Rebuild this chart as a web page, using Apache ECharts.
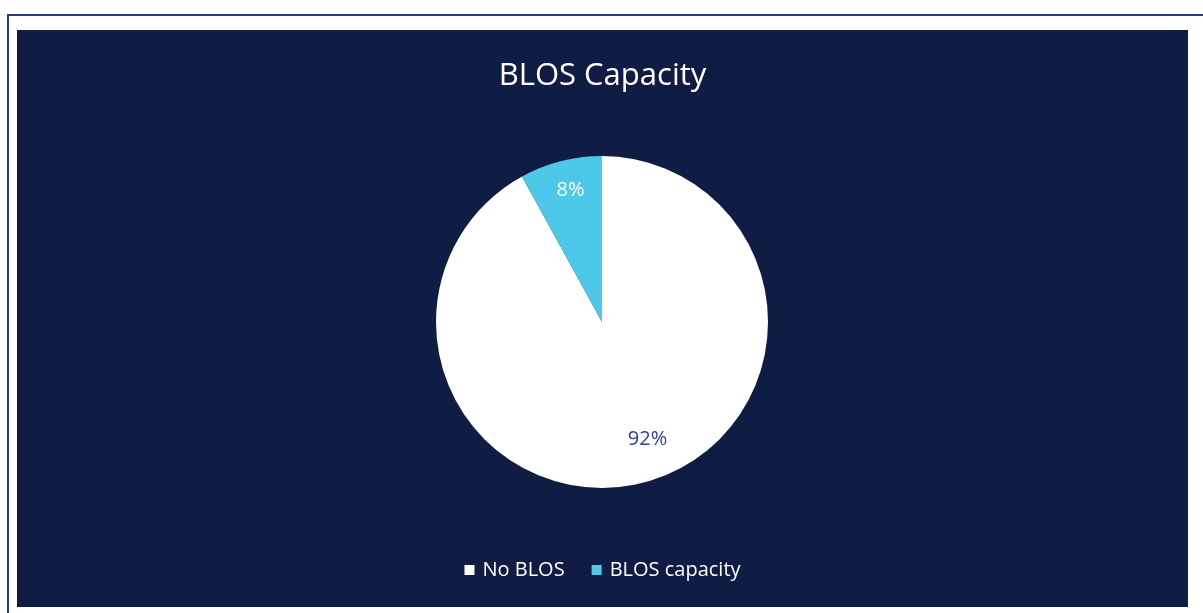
<!DOCTYPE html>
<html>
<head>
<meta charset="utf-8">
<script src="https://cdn.jsdelivr.net/npm/echarts@6/dist/echarts.min.js"></script>
<style>
  html, body { margin: 0; padding: 0; background: #ffffff; }
  #frame {
    position: absolute; left: 7px; top: 14px; width: 1300px; height: 700px;
    border-top: 2px solid #1f3a8a; border-left: 2px solid #1f3a8a;
  }
  #main {
    position: absolute; left: 17px; top: 30px; width: 1171px; height: 577px;
    background: #0f1c44;
  }
</style>
</head>
<body>
<div id="frame"></div>
<div id="main"></div>
<script>
// 饼图数据
let categories = ["No BLOS", "BLOS capacity"];
let values = [92, 8];
let colors = ["#ffffff", "#4dc8e9"];
let labelColors = ["#2e3f94", "#ffffff"];

let myChart = echarts.init(document.getElementById("main"));

let pieData = categories.map(function (name, i) {
    return { name: name, value: values[i], itemStyle: { color: colors[i] } };
});
// 只用来放标签的透明饼
let labelData = categories.map(function (name, i) {
    return {
        name: name,
        value: values[i],
        itemStyle: { color: "rgba(0,0,0,0)" },
        label: { color: labelColors[i] }
    };
});

let option = {
    backgroundColor: "#0f1c44",
    title: {
        text: "BLOS Capacity",
        left: "center",
        top: 26,
        textStyle: {
            color: "#ffffff",
            fontFamily: "Open Sans",
            fontSize: 31,
            fontWeight: "normal"
        }
    },
    legend: {
        data: categories,
        bottom: 22,
        left: "center",
        itemWidth: 10,
        itemHeight: 10,
        itemGap: 27,
        icon: "rect",
        textStyle: {
            color: "#ffffff",
            fontFamily: "Open Sans",
            fontSize: 20,
            padding: [0, 0, 0, 3]
        }
    },
    series: [
        {
            name: "BLOS",
            type: "pie",
            center: [585, 292],
            radius: [0, 166],
            startAngle: 90,
            clockwise: true,
            label: { show: false },
            labelLine: { show: false },
            emphasis: { disabled: true },
            data: pieData
        },
        {
            name: "labels",
            type: "pie",
            center: [585, 292],
            radius: [106, 166],
            startAngle: 90,
            clockwise: true,
            silent: true,
            legendHoverLink: false,
            label: {
                show: true,
                position: "inside",
                formatter: "{d}%",
                fontFamily: "Open Sans",
                fontSize: 20
            },
            labelLine: { show: false },
            // 92% 的标签在原图里离圆心更近
            labelLayout: function (params) {
                if (params.dataIndex === 0) {
                    return { dx: 11, dy: -17 };
                }
                return { dx: 3, dy: 3 };
            },
            data: labelData
        }
    ]
};

myChart.setOption(option);
</script>
</body>
</html>
